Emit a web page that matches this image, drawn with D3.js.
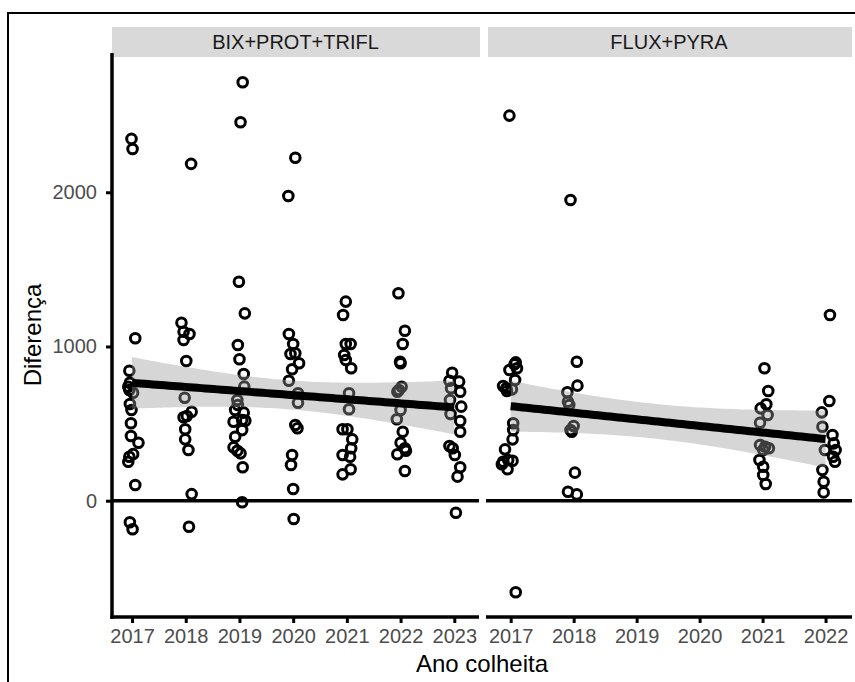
<!DOCTYPE html>
<html><head><meta charset="utf-8">
<script src="https://cdn.jsdelivr.net/npm/d3@7"></script>
<style>body{margin:0;background:#fff} text{font-family:"Liberation Sans",Arial,sans-serif}</style>
</head><body>
<svg id="c" width="855" height="682"></svg>
<script>
// ---- data ----
const panelNames = ["BIX+PROT+TRIFL", "FLUX+PYRA"];
const yearsLeft = [2017, 2018, 2019, 2020, 2021, 2022, 2023];
const yearsRight = [2017, 2018, 2019, 2020, 2021, 2022];
const yTicks = [0, 1000, 2000];
const xTitle = "Ano colheita";
const yTitle = "Diferença";

// BIX+PROT+TRIFL: values per year (2017..2023) and horizontal jitter (years)
const bixValues = [
  [2346, 2281, 1053, 843, 765, 739, 718, 700, 627, 588, 502, 420, 376, 302, 285, 253, 102, -140, -185],
  [2184, 1154, 1096, 1081, 1042, 906, 668, 577, 549, 541, 463, 398, 329, 43, -169],
  [2713, 2454, 1420, 1215, 1010, 917, 822, 740, 653, 621, 588, 571, 523, 519, 512, 458, 415, 346, 324, 307, 217, -10],
  [2224, 1976, 1081, 1016, 951, 956, 891, 852, 778, 697, 635, 491, 470, 296, 232, 76, -119],
  [1291, 1204, 1016, 1016, 945, 912, 859, 697, 593, 463, 463, 398, 340, 296, 285, 204, 171],
  [1345, 1102, 1016, 901, 891, 739, 718, 707, 588, 528, 447, 376, 340, 324, 301, 193],
  [830, 778, 772, 729, 707, 653, 610, 562, 517, 447, 355, 340, 296, 217, 156, -78]
];
const bixJitter = [
  [-0.01, 0.01, 0.06, -0.05, -0.04, -0.07, -0.05, 0.02, -0.04, -0.01, -0.02, -0.02, 0.12, 0.02, -0.05, -0.07, 0.06, -0.04, 0.01],
  [0.10, -0.08, -0.04, 0.07, -0.04, 0.01, -0.02, 0.11, 0.02, -0.04, -0.01, -0.01, 0.05, 0.11, 0.06],
  [0.06, 0.02, -0.01, 0.10, -0.03, 0.00, 0.08, 0.09, -0.04, -0.03, -0.08, 0.08, 0.05, 0.11, -0.11, 0.05, -0.08, -0.11, -0.04, 0.02, 0.06, 0.05],
  [0.04, -0.09, -0.08, 0.00, -0.05, 0.04, 0.11, -0.02, -0.08, 0.09, 0.09, 0.04, 0.08, -0.02, -0.04, 0.00, 0.01],
  [-0.02, -0.07, -0.02, 0.07, -0.05, -0.02, 0.08, 0.04, 0.04, -0.08, 0.01, 0.10, 0.08, -0.08, 0.06, 0.07, -0.08],
  [-0.04, 0.08, 0.04, -0.01, 0.00, 0.02, -0.03, -0.06, 0.00, -0.07, 0.04, 0.00, 0.08, 0.10, -0.06, 0.08],
  [-0.04, -0.09, 0.09, -0.06, 0.11, -0.08, 0.13, -0.07, 0.11, 0.11, -0.09, -0.03, 0.01, 0.11, 0.06, 0.03]
];

// FLUX+PYRA: values per year (2017..2022; no 2019/2020 data)
const fluxValues = [
  [2497, 897, 884, 848, 859, 783, 744, 729, 711, 722, 502, 458, 398, 333, 253, 236, 264, 259, 204, -594],
  [1950, 901, 746, 703, 642, 621, 484, 447, 458, 182, 58, 41],
  [],
  [],
  [859, 711, 625, 599, 556, 506, 361, 350, 340, 329, 264, 220, 167, 108],
  [1204, 647, 573, 480, 426, 372, 329, 329, 285, 253, 199, 123, 54]
];
const fluxJitter = [
  [-0.02, 0.08, 0.06, -0.02, 0.10, 0.07, -0.12, -0.07, -0.06, 0.02, 0.04, 0.04, 0.03, -0.09, -0.12, -0.14, -0.04, 0.03, -0.05, 0.08],
  [-0.05, 0.05, 0.06, -0.10, -0.09, -0.07, 0.00, -0.03, -0.05, 0.02, -0.09, 0.05],
  [],
  [],
  [0.03, 0.09, 0.06, -0.03, 0.08, -0.04, -0.04, 0.04, 0.10, 0.01, -0.05, 0.01, 0.01, 0.05],
  [0.07, 0.06, -0.06, -0.05, 0.11, 0.13, 0.16, -0.01, 0.12, 0.15, -0.05, -0.03, -0.03]
];

// ---- layout ----
const svg = d3.select("#c");
const yTop = 53, yBot = 617;
const y = d3.scaleLinear().domain([-754, 2903]).range([yBot, yTop]);

const panels = [
  { name: panelNames[0], years: yearsLeft, values: bixValues, jitter: bixJitter,
    x: d3.scaleLinear().domain([2016.627, 2023.46]).range([112, 479]), x0: 112, x1: 479 },
  { name: panelNames[1], years: yearsRight, values: fluxValues, jitter: fluxJitter,
    x: d3.scaleLinear().domain([2016.608, 2022.42]).range([486, 852]), x0: 486, x1: 852 }
];

// outer frame
svg.append("rect").attr("x", 8).attr("y", 13).attr("width", 900).attr("height", 700)
  .attr("fill", "none").attr("stroke", "#000").attr("stroke-width", 2);

function tQuant(df) {
  const z = 1.959964;
  return z + (z ** 3 + z) / (4 * df) + (5 * z ** 5 + 16 * z ** 3 + 3 * z) / (96 * df * df);
}

function fitLine(pts, x0, x1) {
  const n = pts.length;
  const mx = d3.mean(pts, d => d.year), my = d3.mean(pts, d => d.v);
  const sxx = d3.sum(pts, d => (d.year - mx) ** 2);
  const sxy = d3.sum(pts, d => (d.year - mx) * (d.v - my));
  const b = sxy / sxx, a = my - b * mx;
  const s = Math.sqrt(d3.sum(pts, d => (d.v - a - b * d.year) ** 2) / (n - 2));
  const t = tQuant(n - 2);
  return d3.range(80).map(i => {
    const xx = x0 + (x1 - x0) * i / 79;
    const yh = a + b * xx;
    const se = s * Math.sqrt(1 / n + (xx - mx) ** 2 / sxx);
    return { x: xx, y: yh, lo: yh - t * se, hi: yh + t * se };
  });
}

panels.forEach((p, pi) => {
  const g = svg.append("g");
  const pts = [];
  p.values.forEach((arr, i) => arr.forEach((v, j) =>
    pts.push({ year: p.years[i], jit: p.jitter[i][j], v })));

  // strip
  g.append("rect").attr("x", p.x0 + (pi === 0 ? 0 : 2)).attr("y", 27)
    .attr("width", p.x1 - p.x0 - (pi === 0 ? -1 : 2)).attr("height", 30).attr("fill", "#d9d9d9");
  g.append("text").attr("x", (p.x0 + p.x1) / 2).attr("y", 42).attr("dy", "0.35em")
    .attr("text-anchor", "middle").attr("font-size", 20).attr("fill", "#1a1a1a").text(p.name);

  // zero line
  g.append("line").attr("x1", p.x0).attr("x2", p.x1).attr("y1", y(0)).attr("y2", y(0))
    .attr("stroke", "#000").attr("stroke-width", 3.5);

  // points
  g.selectAll("circle.pt").data(pts).join("circle").attr("class", "pt")
    .attr("cx", d => p.x(d.year + d.jit)).attr("cy", d => y(d.v)).attr("r", 4.8)
    .attr("fill", "none").attr("stroke", "#000").attr("stroke-width", 3);

  // smooth
  const yrs = pts.map(d => d.year);
  const fit = fitLine(pts, d3.min(yrs), d3.max(yrs));
  g.append("path").datum(fit)
    .attr("d", d3.area().x(d => p.x(d.x)).y0(d => y(d.lo)).y1(d => y(d.hi)))
    .attr("fill", "#999999").attr("fill-opacity", 0.4);
  g.append("path").datum(fit)
    .attr("d", d3.line().x(d => p.x(d.x)).y(d => y(d.y)))
    .attr("fill", "none").attr("stroke", "#000").attr("stroke-width", 8);

  // x axis
  const ax = g.append("g").attr("transform", `translate(0,${yBot})`)
    .call(d3.axisBottom(p.x).tickValues(p.years).tickFormat(d3.format("d"))
      .tickSizeOuter(0).tickSize(6).tickPadding(5.8));
  ax.select(".domain").attr("stroke-width", 3.5).attr("d", `M${p.x0 - (pi === 0 ? 1.75 : 0)},0H${p.x1}`);
  ax.selectAll(".tick line").attr("stroke-width", 3);
  ax.selectAll(".tick text").attr("font-size", 20).attr("fill", "#4d4d4d").attr("font-family", null);
});

// y axis (left panel only)
const ay = svg.append("g").attr("transform", `translate(112,0)`)
  .call(d3.axisLeft(y).tickValues(yTicks).tickFormat(d3.format("d"))
    .tickSizeOuter(0).tickSize(6).tickPadding(9));
ay.select(".domain").attr("stroke-width", 3.5).attr("d", `M0,${yTop}V${yBot + 1.75}`);
ay.selectAll(".tick line").attr("stroke-width", 3);
ay.selectAll(".tick text").attr("font-size", 20).attr("fill", "#4d4d4d").attr("font-family", null);

// titles
svg.append("text").attr("x", 482).attr("y", 671.5).attr("text-anchor", "middle")
  .attr("font-size", 24).attr("fill", "#000").text(xTitle);
svg.append("text").attr("transform", `translate(33,${(yTop + yBot) / 2}) rotate(-90)`)
  .attr("text-anchor", "middle").attr("dy", "0.35em")
  .attr("font-size", 24).attr("fill", "#000").text(yTitle);
</script>
</body></html>
